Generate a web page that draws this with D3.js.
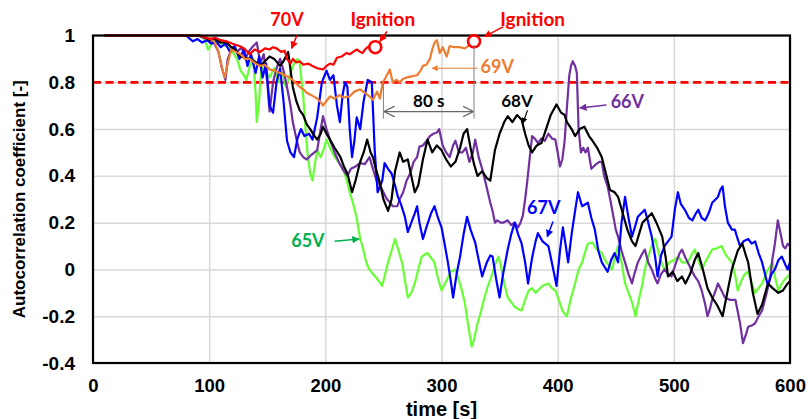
<!DOCTYPE html>
<html>
<head>
<meta charset="utf-8">
<script src="https://cdn.jsdelivr.net/npm/d3@7"></script>
<style>
  body { margin: 0; background: #fff; }
  text { font-family: "Liberation Sans", Arial, sans-serif; }
  .note { font-family: Lato, "Noto Sans", sans-serif; font-weight: bold; }
</style>
</head>
<body>
<div id="chart"></div>
<script>
// ticks
const xTicks = [0, 100, 200, 300, 400, 500, 600];
const yTicks = [-0.4, -0.2, 0, 0.2, 0.4, 0.6, 0.8, 1];
const threshold = 0.8;

// séries [temps (s), coefficient]
const v65 = [[10,1],[90,1],[95,0.99],[97,0.97],[99,0.94],[101,0.955],[104,0.98],[108,0.975],[112,0.96],[116,0.95],[120,0.93],[124,0.9],[127,0.85],[130,0.83],[132,0.81],[135,0.87],[138,0.9],[140,0.75],[141,0.63],[143,0.72],[145,0.87],[148,0.85],[152,0.82],[156,0.86],[160,0.8],[163,0.84],[166,0.78],[170,0.84],[173,0.88],[176,0.9],[178,0.88],[181,0.74],[183,0.6],[185,0.48],[187,0.41],[189,0.38],[191,0.45],[193,0.51],[196,0.48],[199,0.52],[201,0.555],[204,0.52],[208,0.48],[212,0.455],[216,0.42],[219,0.37],[221,0.33],[224,0.28],[227,0.22],[230,0.13],[232,0.1],[234,0.055],[236,0.02],[238,0.0],[241,-0.02],[243,-0.03],[246,-0.05],[249,-0.07],[252,-0.01],[254,0.03],[257,0.08],[260,0.13],[263,0.08],[266,0.03],[269,-0.06],[271,-0.12],[274,-0.1],[277,-0.06],[280,0.0],[283,0.055],[286,0.065],[288,0.07],[291,0.05],[294,0.03],[297,-0.04],[300,-0.09],[303,-0.06],[306,-0.03],[308,-0.01],[312,0.0],[314,-0.03],[317,-0.08],[320,-0.14],[323,-0.24],[326,-0.33],[328,-0.3],[331,-0.23],[334,-0.18],[337,-0.12],[340,-0.07],[343,-0.03],[346,0.02],[349,0.055],[351,0.02],[354,-0.06],[357,-0.12],[360,-0.14],[363,-0.16],[366,-0.17],[369,-0.175],[372,-0.13],[375,-0.09],[378,-0.08],[381,-0.1],[383,-0.09],[387,-0.07],[392,-0.06],[395,-0.08],[398,-0.09],[401,-0.13],[404,-0.175],[406,-0.19],[408,-0.2],[411,-0.13],[415,-0.06],[418,0.0],[421,0.03],[424,0.08],[426,0.11],[430,0.115],[433,0.09],[438,0.07],[442,0.03],[447,0.0],[449,0.05],[452,0.1],[455,0.03],[458,-0.06],[461,-0.1],[464,-0.14],[467,-0.2],[469,-0.15],[473,-0.06],[475,0.0],[478,0.055],[481,0.1],[484,0.13],[487,0.07],[490,0.02],[492,0.0],[496,0.03],[500,0.04],[504,0.055],[507,0.03],[512,0.03],[515,0.06],[518,0.085],[521,0.04],[524,0.0],[528,0.04],[533,0.085],[537,0.09],[541,0.1],[545,0.06],[550,0.03],[553,-0.03],[555,-0.09],[558,-0.05],[561,-0.02],[564,-0.01],[567,-0.06],[570,-0.1],[573,-0.08],[576,-0.06],[580,-0.01],[585,0.03],[587,-0.03],[590,-0.09],[593,-0.06],[596,-0.04],[598,-0.03],[600,-0.02]];

const v66 = [[10,1],[90,1],[95,0.99],[100,0.985],[104,0.97],[108,0.93],[111,0.86],[114,0.81],[116,0.9],[120,0.95],[124,0.93],[128,0.95],[131,0.9],[134,0.93],[137,0.95],[141,0.97],[144,0.88],[147,0.92],[150,0.8],[152,0.675],[155,0.8],[158,0.86],[161,0.9],[164,0.85],[167,0.78],[170,0.7],[172,0.63],[175,0.56],[178,0.5],[181,0.48],[184,0.47],[188,0.49],[193,0.51],[196,0.6],[198,0.655],[201,0.6],[204,0.555],[208,0.5],[212,0.455],[216,0.42],[219,0.4],[222,0.43],[226,0.44],[230,0.455],[234,0.45],[238,0.48],[241,0.43],[244,0.38],[247,0.36],[250,0.33],[253,0.3],[256,0.285],[258,0.27],[262,0.27],[264,0.3],[267,0.33],[270,0.38],[273,0.41],[276,0.46],[279,0.48],[281,0.525],[284,0.53],[288,0.555],[290,0.57],[293,0.58],[296,0.585],[298,0.6],[301,0.53],[304,0.5],[307,0.48],[310,0.53],[312,0.55],[315,0.5],[318,0.5],[321,0.52],[324,0.46],[327,0.5],[329,0.555],[332,0.48],[335,0.43],[338,0.37],[342,0.285],[344,0.25],[346,0.2],[348,0.21],[351,0.2],[353,0.2],[357,0.21],[360,0.19],[363,0.2],[366,0.18],[368,0.2],[370,0.23],[372,0.3],[374,0.385],[376,0.48],[378,0.57],[381,0.555],[383,0.54],[386,0.56],[389,0.55],[392,0.58],[395,0.56],[398,0.555],[400,0.5],[402,0.44],[404,0.47],[406,0.55],[408,0.695],[410,0.83],[411.5,0.87],[413,0.89],[415,0.87],[416.5,0.84],[418,0.6],[420,0.5],[422,0.52],[424,0.5],[426,0.52],[429,0.43],[433,0.45],[436,0.46],[438,0.46],[440,0.4],[443,0.355],[446,0.28],[448,0.225],[450,0.17],[452,0.14],[455,0.08],[458,0.03],[461,-0.02],[464,-0.06],[466,-0.02],[469,0.03],[472,0.06],[475,0.085],[478,0.03],[481,0.0],[484,-0.04],[486,-0.06],[489,-0.02],[492,0.0],[495,-0.02],[498,-0.03],[502,0.03],[505,0.07],[507,0.085],[510,0.05],[512,0.03],[515,0.0],[518,-0.03],[521,-0.05],[524,-0.09],[527,-0.15],[529,-0.2],[531,-0.17],[533,-0.13],[536,-0.09],[538,-0.06],[541,-0.09],[544,-0.12],[548,-0.13],[553,-0.13],[555,-0.18],[557,-0.23],[559.5,-0.315],[562,-0.28],[564,-0.245],[567,-0.24],[570,-0.23],[573,-0.2],[576,-0.175],[580,-0.1],[583,-0.03],[585,0.05],[587,0.11],[589.5,0.21],[592,0.15],[594,0.1],[596,0.09],[598,0.11],[600,0.1]];

const v67 = [[10,1],[80,1],[86,0.975],[90,0.985],[94,0.97],[98,0.98],[102,0.965],[106,0.975],[110,0.95],[114,0.965],[118,0.93],[122,0.955],[126,0.9],[130,0.94],[133,0.87],[136,0.92],[140,0.84],[143,0.91],[146,0.82],[149,0.88],[152,0.7],[155,0.67],[158,0.8],[161,0.86],[164,0.72],[167,0.55],[170,0.5],[173,0.48],[176,0.56],[179,0.6],[182,0.57],[186,0.58],[189,0.555],[193,0.65],[197,0.8],[201,0.85],[204,0.81],[207,0.83],[210,0.7],[212.5,0.63],[215,0.75],[217,0.8],[219,0.78],[221,0.6],[223,0.48],[225,0.55],[227,0.65],[230,0.6],[233,0.72],[236.5,0.81],[240,0.8],[242.5,0.51],[245,0.33],[249,0.38],[251,0.455],[254,0.43],[257,0.41],[260,0.36],[262.5,0.31],[265,0.28],[268.5,0.225],[271,0.16],[274,0.2],[277,0.24],[279,0.27],[281,0.2],[284,0.13],[287,0.18],[291,0.24],[294,0.27],[297,0.22],[300,0.18],[303,0.1],[305.5,0.03],[308,-0.05],[310,-0.12],[313,-0.02],[316,0.055],[319,0.15],[322,0.225],[325,0.17],[329,0.115],[332,0.04],[335,-0.03],[339,0.03],[342,0.06],[344,0.055],[347,-0.04],[350,-0.12],[353,-0.02],[357,0.085],[360,0.15],[363,0.2],[366,0.15],[369,0.11],[372,0.03],[374.5,-0.06],[378,0.05],[381,0.12],[383,0.155],[387,0.12],[392,0.1],[395,0.03],[399,-0.07],[402,0.08],[404.5,0.18],[407,0.1],[409,0.03],[412,0.15],[415,0.25],[417.5,0.33],[421,0.27],[426,0.285],[429,0.22],[432,0.17],[435,0.08],[438,0.03],[443,-0.01],[446,0.04],[449,0.07],[452,0.03],[455,0.2],[458,0.31],[461,0.22],[464,0.14],[467,0.19],[469,0.225],[472,0.24],[475,0.255],[478,0.2],[481,0.14],[484,0.05],[486,-0.03],[489,0.06],[492,0.1],[495,0.12],[498,0.14],[501,0.26],[503.5,0.33],[506,0.28],[509.5,0.255],[513,0.22],[516,0.21],[519,0.24],[521,0.255],[524,0.22],[527,0.21],[530,0.24],[533,0.285],[536,0.3],[538,0.31],[540,0.34],[542,0.355],[544,0.27],[546.5,0.2],[550,0.17],[552.5,0.17],[555,0.13],[557,0.1],[560,0.12],[564,0.13],[567,0.11],[570,0.12],[573,0.07],[576,0.03],[579,-0.03],[581,-0.07],[584,-0.02],[587,0],[590,0.04],[593,0.055],[596,0.02],[598,0],[600,0.03]];

const v68 = [[10,1],[90,1],[95,0.995],[101,0.98],[105,0.985],[110,0.97],[115,0.97],[119,0.95],[123,0.935],[127,0.91],[131,0.905],[135,0.9],[139,0.89],[144,0.87],[148,0.89],[152,0.91],[156,0.9],[161,0.87],[164,0.89],[168,0.93],[172,0.78],[175,0.72],[178,0.68],[181,0.66],[184,0.62],[187,0.6],[190,0.575],[193,0.555],[196,0.58],[198,0.61],[201,0.58],[204,0.555],[208,0.52],[213,0.48],[216,0.44],[219,0.41],[221,0.37],[223,0.33],[226,0.38],[230,0.46],[233,0.5],[236,0.555],[239,0.5],[241,0.48],[244,0.42],[247,0.37],[250,0.3],[254,0.25],[257,0.3],[260,0.42],[264,0.5],[267,0.46],[271,0.47],[274,0.4],[277,0.33],[280,0.36],[284,0.47],[288,0.555],[292,0.5],[296,0.53],[300,0.51],[304,0.47],[308,0.44],[312,0.46],[316,0.52],[319,0.58],[322,0.6],[325,0.52],[328,0.45],[331,0.4],[335,0.42],[339,0.39],[342,0.38],[346,0.51],[350,0.58],[354,0.63],[357,0.655],[361,0.63],[365,0.66],[369,0.64],[372,0.58],[375,0.53],[378,0.5],[382,0.53],[386,0.54],[390,0.6],[394,0.66],[399,0.705],[403,0.67],[406,0.66],[408,0.63],[412,0.6],[415,0.57],[419,0.6],[423,0.61],[427,0.57],[430,0.55],[434,0.52],[438,0.48],[442,0.4],[445,0.34],[449,0.33],[452,0.31],[456,0.24],[460,0.17],[464,0.12],[467,0.1],[470,0.15],[473,0.2],[477,0.22],[481,0.24],[485,0.2],[490,0.14],[493,0.05],[495,-0.03],[499,-0.01],[503,-0.05],[507,-0.03],[510,-0.06],[514,-0.02],[518,0.04],[521,0.07],[525,0.0],[529,-0.08],[533,-0.12],[537,-0.15],[542,-0.2],[546,-0.1],[550,0.0],[555,0.08],[559,0.11],[562,0.06],[564,0.03],[568,-0.1],[572,-0.19],[576,-0.15],[581,-0.06],[585,-0.08],[590,-0.1],[594,-0.09],[598,-0.06],[600,-0.05]];

const v69 = [[10,1],[90,1],[100,0.99],[105,0.97],[108,0.93],[111,0.86],[113.5,0.82],[116,0.88],[119,0.94],[123,0.93],[127,0.92],[131,0.9],[135,0.9],[140,0.88],[144,0.87],[148,0.875],[152,0.855],[156,0.85],[161,0.84],[165,0.83],[169,0.82],[172,0.81],[175,0.795],[178,0.78],[181,0.77],[184,0.755],[188,0.745],[193,0.73],[196,0.715],[198,0.7],[201,0.72],[204,0.74],[208,0.73],[212,0.745],[216,0.735],[221,0.74],[225,0.76],[230,0.77],[234,0.755],[238,0.74],[241,0.725],[244.5,0.76],[247,0.73],[249.5,0.8],[252,0.82],[255.5,0.855],[258,0.8],[261,0.81],[264,0.8],[267,0.815],[270,0.82],[274,0.825],[279,0.83],[282,0.85],[284,0.87],[287,0.875],[290,0.9],[292,0.94],[294,0.97],[296,0.98],[298.5,0.925],[301,0.95],[304.5,0.91],[307,0.955],[311,0.95],[316,0.95],[320,0.945],[324.5,0.96],[328,0.975]];

const v70 = [[10,1],[60,1],[92,1],[100,0.985],[105,0.99],[110,0.98],[115,0.975],[120,0.965],[126,0.955],[130,0.945],[135,0.92],[139,0.94],[144,0.93],[148,0.945],[152,0.94],[155,0.95],[158,0.945],[162,0.93],[165,0.935],[167,0.9],[170,0.88],[172,0.9],[175,0.885],[178,0.89],[181,0.875],[185,0.88],[189,0.87],[193,0.86],[198,0.855],[201,0.87],[204,0.88],[207,0.875],[210,0.905],[214,0.91],[218,0.925],[221,0.92],[224,0.93],[227,0.94],[230,0.93],[232,0.925],[235,0.945],[238,0.955],[243,0.95]];

const series = [
  {name: "65V", data: v65, color: "#66ff33"},
  {name: "66V", data: v66, color: "#7030a0"},
  {name: "67V", data: v67, color: "#0000ff"},
  {name: "68V", data: v68, color: "#000000"},
  {name: "69V", data: v69, color: "#ed7d31"},
  {name: "70V", data: v70, color: "#ff0000"}
];

const width = 808;
const height = 419;

const x = d3.scaleLinear().domain([0, 600]).range([93, 790]);
const y = d3.scaleLinear().domain([-0.4, 1]).range([363, 35.5]);

const svg = d3.select("#chart").append("svg")
    .attr("width", width)
    .attr("height", height);

// flèches
const defs = svg.append("defs");
function marker(id, color) {
  defs.append("marker")
      .attr("id", id)
      .attr("viewBox", "0 0 10 10")
      .attr("refX", 9).attr("refY", 5)
      .attr("markerWidth", 5).attr("markerHeight", 5)
      .attr("orient", "auto-start-reverse")
      .append("path")
      .attr("d", "M0,0L10,5L0,10z")
      .attr("fill", color);
}
marker("a-red", "#ff0000");
marker("a-orange", "#ed7d31");
marker("a-black", "#000");
marker("a-purple", "#7030a0");
marker("a-green", "#00b050");
marker("a-blue", "#0000ff");
defs.append("marker")
    .attr("id", "a-gray")
    .attr("viewBox", "0 0 10 10")
    .attr("refX", 10).attr("refY", 5)
    .attr("markerWidth", 9).attr("markerHeight", 9)
    .attr("orient", "auto-start-reverse")
    .append("path")
    .attr("d", "M0,0L10,5L0,10")
    .attr("fill", "none")
    .attr("stroke", "#666")
    .attr("stroke-width", 1.2);

// grille
svg.append("g")
    .attr("transform", `translate(0,${y(-0.4)})`)
    .call(d3.axisBottom(x).tickValues(xTicks).tickSize(-(y(-0.4) - y(1))).tickFormat(""))
    .call(g => g.select(".domain").remove())
    .call(g => g.selectAll("line").attr("stroke", "#d9d9d9").attr("stroke-width", 1.5));
svg.append("g")
    .attr("transform", `translate(${x(0)},0)`)
    .call(d3.axisLeft(y).tickValues(yTicks).tickSize(-(x(600) - x(0))).tickFormat(""))
    .call(g => g.select(".domain").remove())
    .call(g => g.selectAll("line").attr("stroke", "#d9d9d9").attr("stroke-width", 1.5));

// étiquettes des axes
svg.append("g")
    .attr("transform", `translate(0,${y(-0.4)})`)
    .call(d3.axisBottom(x).tickValues(xTicks).tickSize(0).tickPadding(16).tickFormat(d => String(d)))
    .call(g => g.select(".domain").remove())
    .call(g => g.selectAll("text")
        .attr("font-family", "Liberation Sans, Arial, sans-serif")
        .attr("font-size", 18.5).attr("font-weight", "bold").attr("fill", "#000"));
svg.append("g")
    .attr("transform", `translate(${x(0)},0)`)
    .call(d3.axisLeft(y).tickValues(yTicks).tickSize(0).tickPadding(18).tickFormat(d => String(d)))
    .call(g => g.select(".domain").remove())
    .call(g => g.selectAll("text")
        .attr("font-family", "Liberation Sans, Arial, sans-serif")
        .attr("font-size", 19).attr("font-weight", "bold").attr("fill", "#000"));

svg.append("text")
    .attr("x", (x(0) + x(600)) / 2).attr("y", 416)
    .attr("text-anchor", "middle")
    .attr("font-size", 20).attr("font-weight", "bold")
    .text("time [s]");
svg.append("text")
    .attr("transform", `translate(25,${(y(1) + y(-0.4)) / 2}) rotate(-90)`)
    .attr("text-anchor", "middle")
    .attr("font-size", 17).attr("font-weight", "bold")
    .text("Autocorrelation coefficient [-]");

// seuil 0.8
svg.append("line")
    .attr("x1", x(0)).attr("x2", x(600))
    .attr("y1", y(threshold)).attr("y2", y(threshold))
    .attr("stroke", "#ff0000").attr("stroke-width", 2.8)
    .attr("stroke-dasharray", "8,4.5");

// courbes
const line = d3.line().x(d => x(d[0])).y(d => y(d[1]));
svg.append("g").selectAll("path")
    .data(series)
    .join("path")
    .attr("d", d => line(d.data))
    .attr("fill", "none")
    .attr("stroke", d => d.color)
    .attr("stroke-width", 2.2)
    .attr("stroke-linejoin", "round");

// cadre
svg.append("rect")
    .attr("x", x(0)).attr("y", y(1))
    .attr("width", x(600) - x(0)).attr("height", y(-0.4) - y(1))
    .attr("fill", "none").attr("stroke", "#000").attr("stroke-width", 2.2);

// allumage : fin des courbes 69V et 70V
const ign = [v70[v70.length - 1], v69[v69.length - 1]];
svg.append("g").selectAll("circle")
    .data(ign)
    .join("circle")
    .attr("cx", d => x(d[0])).attr("cy", d => y(d[1]))
    .attr("r", 6)
    .attr("fill", "#fff").attr("stroke", "#ff0000").attr("stroke-width", 2.6);

// annotations
function note(t, v, txt, color, size) {
  svg.append("text").attr("class", "note")
      .attr("x", x(t)).attr("y", y(v))
      .attr("text-anchor", "middle").attr("dominant-baseline", "middle")
      .attr("font-size", size).attr("fill", color)
      .text(txt);
}
function arrow(t1, v1, t2, v2, color, id, w) {
  svg.append("line")
      .attr("x1", x(t1)).attr("y1", y(v1)).attr("x2", x(t2)).attr("y2", y(v2))
      .attr("stroke", color).attr("stroke-width", w || 1.5)
      .attr("marker-end", `url(#${id})`);
}

note(167, 1.06, "70V", "#ff0000", 18);
arrow(175.5, 1.0, 171, 0.945, "#ff0000", "a-red", 1.5);

note(249.5, 1.06, "Ignition", "#ff0000", 19);
arrow(253, 1.017, 247, 0.975, "#ff0000", "a-red", 1.5);
note(378.5, 1.06, "Ignition", "#ff0000", 19);
arrow(353, 1.037, 337, 0.995, "#ff0000", "a-red", 1.5);

note(348, 0.86, "69V", "#ed7d31", 18);
arrow(331, 0.86, 292, 0.86, "#ed7d31", "a-orange", 1.2);

// 80 s
svg.append("line")
    .attr("x1", x(250)).attr("x2", x(250)).attr("y1", y(0.805)).attr("y2", y(0.645))
    .attr("stroke", "#808080").attr("stroke-width", 1);
svg.append("line")
    .attr("x1", x(328)).attr("x2", x(328)).attr("y1", y(0.96)).attr("y2", y(0.645))
    .attr("stroke", "#808080").attr("stroke-width", 1);
svg.append("line")
    .attr("x1", x(250.5)).attr("x2", x(327.5)).attr("y1", y(0.675)).attr("y2", y(0.675))
    .attr("stroke", "#666").attr("stroke-width", 1.2)
    .attr("marker-start", "url(#a-gray)").attr("marker-end", "url(#a-gray)");
note(289, 0.715, "80 s", "#000", 17);

note(365, 0.715, "68V", "#000", 17);
arrow(374, 0.68, 370, 0.625, "#000", "a-black", 1.2);

note(460, 0.71, "66V", "#7030a0", 18);
arrow(442, 0.703, 419, 0.69, "#7030a0", "a-purple", 1.5);

note(185, 0.115, "65V", "#00b050", 18);
arrow(208, 0.12, 229, 0.13, "#00b050", "a-green", 1.5);

note(388, 0.255, "67V", "#0000ff", 18);
arrow(396, 0.205, 391, 0.14, "#0000ff", "a-blue", 1.5);
</script>
</body>
</html>
